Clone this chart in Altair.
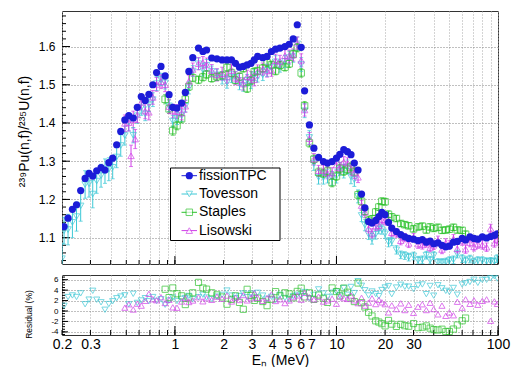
import altair as alt
import pandas as pd

# ---------------- data ----------------
# neutron energy grid (MeV) of the fissionTPC ratio
energy = [0.206, 0.218, 0.232, 0.246, 0.261, 0.278, 0.294, 0.31, 0.328, 0.349,
          0.369, 0.39, 0.412, 0.436, 0.462, 0.49, 0.518, 0.552, 0.585, 0.619,
          0.655, 0.69, 0.73, 0.77, 0.82, 0.87, 0.92, 0.97, 1.03, 1.10,
          1.16, 1.22, 1.29, 1.40, 1.49, 1.57, 1.69, 1.82, 1.96, 2.10,
          2.24, 2.37, 2.51, 2.65, 2.80, 2.96, 3.10, 3.25, 3.50, 3.72,
          3.96, 4.20, 4.47, 4.80, 5.10, 5.40, 5.72, 6.05, 6.35, 6.80,
          7.25, 7.75, 8.30, 8.80, 9.40, 10.0, 10.5, 11.1, 11.7, 12.3,
          12.9, 13.6, 14.3, 15.0, 15.8, 16.6, 17.5, 18.3, 19.1, 20.0,
          21.0, 22.0, 23.5, 25.0, 26.5, 28.0, 30.0, 32.0, 34.0, 36.0,
          38.0, 40.0, 42.5, 45.0, 47.5, 50.0, 53.0, 56.0, 60.0, 63.0,
          67.0, 71.0, 75.0, 80.0, 85.0, 90.0, 95.0, 99.0]

tpc_ratio = [1.129, 1.151, 1.174, 1.186, 1.223, 1.255, 1.268, 1.261, 1.275, 1.283,
             1.277, 1.296, 1.308, 1.343, 1.378, 1.408, 1.419, 1.413, 1.441, 1.469,
             1.459, 1.475, 1.500, 1.532, 1.548, 1.523, 1.474, 1.441, 1.439, 1.452,
             1.480, 1.535, 1.571, 1.596, 1.587, 1.591, 1.570, 1.568, 1.565, 1.565,
             1.565, 1.556, 1.546, 1.548, 1.552, 1.556, 1.565, 1.574, 1.571, 1.574,
             1.587, 1.593, 1.596, 1.600, 1.606, 1.620, 1.657, 1.598, 1.484, 1.395,
             1.334, 1.310, 1.299, 1.295, 1.299, 1.308, 1.318, 1.330, 1.325, 1.317,
             1.295, 1.277, 1.214, 1.178, 1.142, 1.138, 1.145, 1.155, 1.166, 1.160,
             1.140, 1.125, 1.116, 1.108, 1.102, 1.098, 1.096, 1.092, 1.095, 1.088,
             1.091, 1.084, 1.086, 1.080, 1.076, 1.078, 1.088, 1.090, 1.098, 1.094,
             1.102, 1.098, 1.096, 1.102, 1.099, 1.103, 1.106, 1.110]

tovesson_energy = [0.200] + energy
tovesson_ratio = [1.045,
                  1.118, 1.121, 1.140, 1.155, 1.183, 1.239, 1.241, 1.214, 1.248, 1.262,
                  1.274, 1.279, 1.284, 1.311, 1.341, 1.367, 1.401, 1.368, 1.419, 1.440,
                  1.424, 1.448, 1.461, 1.503, 1.514, 1.505, 1.445, 1.405, 1.412, 1.419,
                  1.444, 1.492, 1.536, 1.555, 1.539, 1.551, 1.535, 1.526, 1.518, 1.506,
                  1.520, 1.519, 1.503, 1.498, 1.512, 1.506, 1.526, 1.521, 1.526, 1.538,
                  1.545, 1.560, 1.548, 1.561, 1.571, 1.575, 1.607, 1.553, 1.432, 1.362,
                  1.294, 1.258, 1.257, 1.261, 1.255, 1.261, 1.280, 1.274, 1.285, 1.259,
                  1.252, 1.208, 1.158, 1.133, 1.109, 1.097, 1.109, 1.123, 1.121, 1.110,
                  1.088, 1.090, 1.068, 1.055, 1.053, 1.049, 1.052, 1.041, 1.042, 1.054,
                  1.041, 1.053, 1.035, 1.035, 1.036, 1.040, 1.042, 1.057, 1.045, 1.039,
                  1.044, 1.036, 1.040, 1.040, 1.037, 1.038, 1.037, 1.045]
tovesson_err = [0.040,
                0.035, 0.040, 0.040, 0.038, 0.040, 0.036, 0.035, 0.036, 0.032, 0.030,
                0.032, 0.030, 0.030, 0.028, 0.028, 0.025, 0.022, 0.020, 0.020, 0.020,
                0.018, 0.018, 0.018, 0.018, 0.016, 0.016, 0.015, 0.015, 0.016, 0.015,
                0.015, 0.016, 0.014, 0.015, 0.016, 0.015, 0.014, 0.015, 0.016, 0.015,
                0.014, 0.015, 0.016, 0.015, 0.015, 0.016, 0.015, 0.014, 0.015, 0.016,
                0.015, 0.016, 0.015, 0.016, 0.017, 0.016, 0.018, 0.018, 0.018, 0.018,
                0.018, 0.018, 0.017, 0.018, 0.018, 0.018, 0.017, 0.018, 0.018, 0.018,
                0.018, 0.017, 0.016, 0.015, 0.014, 0.014, 0.013, 0.013, 0.012, 0.012,
                0.012, 0.011, 0.011, 0.010, 0.010, 0.010, 0.010, 0.010, 0.010, 0.010,
                0.010, 0.010, 0.010, 0.010, 0.010, 0.010, 0.010, 0.010, 0.010, 0.010,
                0.010, 0.010, 0.010, 0.010, 0.010, 0.010, 0.010, 0.010]

staples_energy = energy[25:100]
staples_ratio = [1.462, 1.437, 1.380, 1.393, 1.411,
                 1.462, 1.495, 1.518, 1.513, 1.520, 1.527, 1.517, 1.521, 1.524, 1.545,
                 1.531, 1.512, 1.521, 1.543, 1.490, 1.511, 1.534, 1.536, 1.543, 1.558,
                 1.552, 1.536, 1.551, 1.546, 1.555, 1.580, 1.597, 1.531, 1.445, 1.348,
                 1.305, 1.271, 1.268, 1.274, 1.244, 1.261, 1.281, 1.274, 1.279, 1.285,
                 1.272, 1.212, 1.195, 1.169, 1.145, 1.149, 1.167, 1.180, 1.195, 1.194,
                 1.161, 1.154, 1.150, 1.137, 1.134, 1.131, 1.123, 1.128, 1.130, 1.120,
                 1.128, 1.124, 1.127, 1.119, 1.120, 1.122, 1.127, 1.120, 1.119, 1.109]
staples_err = [0.012, 0.012, 0.012, 0.011, 0.011,
               0.010, 0.010, 0.010, 0.010, 0.010, 0.010, 0.010, 0.010, 0.010, 0.010,
               0.010, 0.010, 0.010, 0.010, 0.010, 0.010, 0.010, 0.010, 0.010, 0.010,
               0.010, 0.010, 0.010, 0.010, 0.010, 0.010, 0.011, 0.011, 0.011, 0.011,
               0.011, 0.011, 0.011, 0.011, 0.011, 0.011, 0.011, 0.011, 0.011, 0.011,
               0.011, 0.010, 0.010, 0.010, 0.010, 0.009, 0.009, 0.009, 0.009, 0.009,
               0.009, 0.009, 0.008, 0.008, 0.008, 0.008, 0.008, 0.008, 0.008, 0.008,
               0.008, 0.008, 0.008, 0.008, 0.008, 0.008, 0.008, 0.008, 0.008, 0.008]

lisowski_energy = [0.535, 0.568] + energy[15:]
lisowski_ratio = [1.314, 1.358,
                  1.399, 1.401, 1.409, 1.421, 1.454,
                  1.431, 1.428, 1.467, 1.501, 1.508, 1.500, 1.443, 1.431, 1.430, 1.426,
                  1.444, 1.509, 1.540, 1.555, 1.558, 1.553, 1.537, 1.526, 1.529, 1.520,
                  1.537, 1.517, 1.514, 1.502, 1.521, 1.519, 1.513, 1.535, 1.541, 1.536,
                  1.538, 1.563, 1.561, 1.576, 1.574, 1.578, 1.609, 1.564, 1.434, 1.359,
                  1.305, 1.275, 1.276, 1.269, 1.269, 1.290, 1.282, 1.298, 1.295, 1.279,
                  1.269, 1.258, 1.184, 1.166, 1.124, 1.111, 1.130, 1.131, 1.147, 1.145,
                  1.143, 1.113, 1.112, 1.092, 1.100, 1.085, 1.100, 1.083, 1.081, 1.086,
                  1.074, 1.080, 1.093, 1.069, 1.086, 1.081, 1.097, 1.071, 1.091, 1.070,
                  1.087, 1.076, 1.083, 1.081, 1.075, 1.124, 1.086, 1.095]
lisowski_err = [0.028, 0.025,
                0.022, 0.022, 0.022, 0.020, 0.020,
                0.020, 0.020, 0.018, 0.018, 0.018, 0.018, 0.018, 0.018, 0.018, 0.018,
                0.016, 0.016, 0.017, 0.016, 0.016, 0.017, 0.016, 0.016, 0.017, 0.016,
                0.016, 0.017, 0.016, 0.016, 0.017, 0.016, 0.016, 0.017, 0.016, 0.016,
                0.016, 0.017, 0.016, 0.016, 0.017, 0.016, 0.016, 0.017, 0.016, 0.016,
                0.015, 0.014, 0.014, 0.015, 0.014, 0.014, 0.015, 0.014, 0.014, 0.015,
                0.014, 0.014, 0.013, 0.013, 0.012, 0.012, 0.012, 0.012, 0.012, 0.012,
                0.011, 0.011, 0.011, 0.011, 0.011, 0.011, 0.011, 0.011, 0.011, 0.011,
                0.011, 0.011, 0.011, 0.011, 0.011, 0.011, 0.011, 0.011, 0.011, 0.011,
                0.011, 0.011, 0.011, 0.011, 0.011, 0.011, 0.011, 0.011]

series_names = ["fissionTPC", "Tovesson", "Staples", "Lisowski"]
series_colors = ["#1c1cd8", "#3cc8d6", "#2cc22c", "#d03ee8"]
series_shapes = ["circle", "triangle-down", "square", "triangle-up"]

x_ticks = [0.2, 0.3, 0.4, 0.5, 0.6, 0.7, 0.8, 0.9, 1, 2, 3, 4, 5, 6, 7, 8, 9,
           10, 20, 30, 40, 50, 60, 70, 80, 90, 100]
x_tick_labels = [0.2, 0.3, 1, 2, 3, 4, 5, 6, 7, 10, 20, 30, 100]
x_decades = [1, 10, 100]
y_ticks_top = [1.1, 1.2, 1.3, 1.4, 1.5, 1.6]
y_ticks_res = [-4, -2, 0, 2, 4, 6]

# ---------------- frames ----------------
FONT = "Liberation Sans"
W, H_TOP, H_RES = 436, 253, 60

tpc_df = pd.DataFrame({"energy": energy, "value": tpc_ratio})
tpc_df["series"] = "fissionTPC"


def comparison_frame(name, e, r, err):
    df = pd.DataFrame({"energy": e, "value": r, "err": err})
    df["series"] = name
    df["lo"] = df["value"] - df["err"]
    df["hi"] = df["value"] + df["err"]
    ref = tpc_df[["energy", "value"]].rename(columns={"value": "tpc"})
    df = df.merge(ref, on="energy", how="left")
    # residual of fissionTPC relative to the other measurement, in percent
    df["residual"] = 100.0 * (df["tpc"] / df["value"] - 1.0)
    return df


comp_df = pd.concat([
    comparison_frame("Tovesson", tovesson_energy, tovesson_ratio, tovesson_err),
    comparison_frame("Staples", staples_energy, staples_ratio, staples_err),
    comparison_frame("Lisowski", lisowski_energy, lisowski_ratio, lisowski_err),
], ignore_index=True)

bars_df = comp_df[["energy", "series", "value", "lo", "hi"]]
caps_df = pd.concat([
    comp_df[["energy", "series", "lo"]].rename(columns={"lo": "value"}),
    comp_df[["energy", "series", "hi"]].rename(columns={"hi": "value"}),
], ignore_index=True)
res_df = comp_df.dropna(subset=["residual"])[["energy", "series", "residual"]]

legend_df = pd.DataFrame({"series": series_names, "row": list(range(len(series_names)))})
legend_df["ly"] = 164.7 + 18.3 * legend_df["row"]

y_minor_top = [round(1.04 + 0.02 * i, 2) for i in range(33)]
y_minor_res = [-4.5 + 0.5 * i for i in range(23)]

# ---------------- scales / axes ----------------
x_scale = alt.Scale(type="log", domain=[0.2, 100], nice=False)
y_top_scale = alt.Scale(domain=[1.031, 1.693], nice=False, zero=False)
y_res_scale = alt.Scale(domain=[-4.6, 6.9], nice=False, zero=False)

color_scale = alt.Scale(domain=series_names, range=series_colors)
shape_scale = alt.Scale(domain=series_names, range=series_shapes)

label_expr = ("indexof([" + ",".join(str(v) for v in x_tick_labels) +
              "], datum.value) >= 0 ? '' + datum.value : ''")

x_axis_top = alt.Axis(values=x_ticks, grid=True, labels=False, ticks=False,
                      domain=False, title=None, gridColor="#a8a8a8",
                      gridDash=[1, 2])
x_axis_res = alt.Axis(values=x_ticks, grid=True, ticks=False, domain=False,
                      gridColor="#a8a8a8", gridDash=[1, 2],
                      labelExpr=label_expr, labelFontSize=14, labelPadding=2,
                      labelOverlap=False, labelFlush=False,
                      title="Eₙ (MeV)", titleFontSize=14,
                      titleBaseline="alphabetic", titleY=29)
y_axis_top = alt.Axis(values=y_ticks_top, grid=True, ticks=False, domain=False,
                      gridColor="#808080", gridDash=[1, 2],
                      labelFontSize=12, labelPadding=7,
                      title="²³⁹Pu(n,f)/²³⁵U(n,f)", titleFontSize=14,
                      titleAngle=270, titleX=-37.5, titleY=120,
                      titleAlign="center", titleBaseline="middle")
y_axis_res = alt.Axis(values=y_ticks_res, grid=True, ticks=False, domain=False,
                      gridColor="#808080", gridDash=[1, 2],
                      labelFontSize=8, labelPadding=4,
                      labelExpr="'' + datum.value",
                      title="Residual (%)", titleFontSize=8.5,
                      titleAngle=270, titleX=-34, titleY=39,
                      titleAlign="center", titleBaseline="middle")


def X(axis):
    return alt.X("energy:Q", scale=x_scale, axis=axis)


def ytick_layer(values, length, y_scale, y_axis):
    return alt.Chart(pd.DataFrame({"value": values})).mark_rule(
        color="black", strokeWidth=1).encode(
        x=alt.value(0), x2=alt.value(length),
        y=alt.Y("value:Q", scale=y_scale, axis=y_axis))


def xtick_layer(values, length, height, axis):
    return alt.Chart(pd.DataFrame({"energy": values})).mark_rule(
        color="black", strokeWidth=1).encode(
        x=X(axis), y=alt.value(height), y2=alt.value(height - length))


color_enc = alt.Color("series:N", scale=color_scale, legend=None)
shape_enc = alt.Shape("series:N", scale=shape_scale, legend=None)

# ---------------- main panel ----------------
top_layers = [
    ytick_layer(y_ticks_top, 8, y_top_scale, y_axis_top),
    ytick_layer(y_minor_top, 4, y_top_scale, y_axis_top),
    xtick_layer(x_decades, 8, H_TOP, x_axis_top),
    xtick_layer(x_ticks, 4, H_TOP, x_axis_top),
    alt.Chart(bars_df).mark_rule(strokeWidth=1, clip=True).encode(
        x=X(x_axis_top),
        y=alt.Y("lo:Q", scale=y_top_scale, axis=y_axis_top),
        y2="hi:Q", color=color_enc),
    alt.Chart(caps_df).mark_tick(orient="horizontal", size=4, thickness=1,
                                 clip=True).encode(
        x=X(x_axis_top),
        y=alt.Y("value:Q", scale=y_top_scale, axis=y_axis_top),
        color=color_enc),
    alt.Chart(bars_df).mark_point(filled=False, size=42, strokeWidth=1,
                                  clip=True).encode(
        x=X(x_axis_top),
        y=alt.Y("value:Q", scale=y_top_scale, axis=y_axis_top),
        color=color_enc, shape=shape_enc),
    alt.Chart(tpc_df).mark_point(filled=True, size=52, opacity=1,
                                 clip=True).encode(
        x=X(x_axis_top),
        y=alt.Y("value:Q", scale=y_top_scale, axis=y_axis_top),
        color=color_enc, shape=shape_enc),
    # legend box
    alt.Chart(pd.DataFrame({"series": ["frame"]})).mark_rect(
        fill="white", stroke="black", strokeWidth=1).encode(
        x=alt.value(108.5), x2=alt.value(218), y=alt.value(157),
        y2=alt.value(229.5)),
    alt.Chart(legend_df).mark_rule(strokeWidth=1).encode(
        x=alt.value(119.5), x2=alt.value(135),
        y=alt.Y("ly:Q", scale=None, axis=None), color=color_enc),
    alt.Chart(legend_df[legend_df["series"] != "fissionTPC"]).mark_point(
        filled=False, size=42, strokeWidth=1, fill="white").encode(
        x=alt.value(127.3), y=alt.Y("ly:Q", scale=None, axis=None),
        color=color_enc, shape=shape_enc),
    alt.Chart(legend_df[legend_df["series"] == "fissionTPC"]).mark_point(
        filled=True, size=52, opacity=1).encode(
        x=alt.value(127.3), y=alt.Y("ly:Q", scale=None, axis=None),
        color=color_enc, shape=shape_enc),
    alt.Chart(legend_df).mark_text(align="left", baseline="middle",
                                   fontSize=14, font=FONT, color="black").encode(
        x=alt.value(137), y=alt.Y("ly:Q", scale=None, axis=None),
        text="series:N"),
]
top = alt.layer(*top_layers).properties(width=W, height=H_TOP)

# ---------------- residual panel ----------------
res_layers = [
    ytick_layer(y_ticks_res, 6, y_res_scale, y_axis_res),
    ytick_layer(y_minor_res, 3, y_res_scale, y_axis_res),
    xtick_layer(x_decades, 9, H_RES, x_axis_res),
    xtick_layer(x_ticks, 5, H_RES, x_axis_res),
    alt.Chart(res_df).mark_point(filled=False, size=38, strokeWidth=1,
                                 clip=True).encode(
        x=X(x_axis_res),
        y=alt.Y("residual:Q", scale=y_res_scale, axis=y_axis_res),
        color=color_enc, shape=shape_enc),
]
bottom = alt.layer(*res_layers).properties(width=W, height=H_RES)

chart = alt.vconcat(top, bottom, spacing=9).properties(
    padding={"left": 17, "top": 10, "right": 0, "bottom": 0},
    background="white",
).configure_axis(
    labelFont=FONT, titleFont=FONT, labelColor="black", titleColor="black",
    titleFontWeight="normal",
).configure_view(stroke="#333333", strokeWidth=1)

chart.save("out.html", embed_options={"renderer": "svg", "actions": False})
